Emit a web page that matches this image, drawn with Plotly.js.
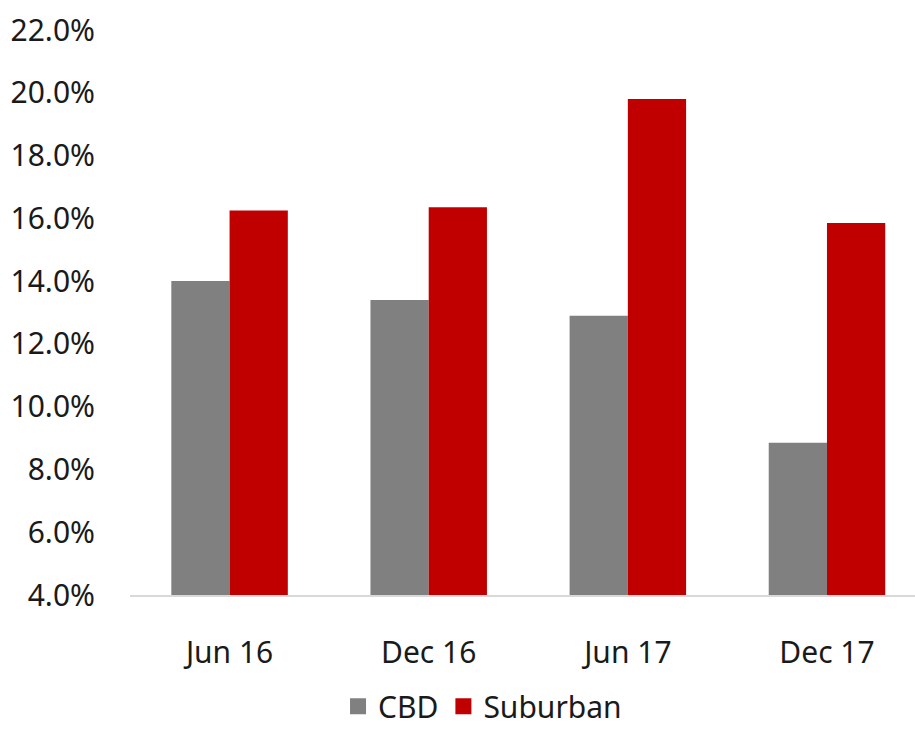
<!DOCTYPE html>
<html>
<head>
<meta charset="utf-8">
<script src="https://cdn.plot.ly/plotly-3.0.1.min.js"></script>
<style>html,body{margin:0;padding:0;background:#fff;}#chart{width:915px;height:731px;}</style>
</head>
<body>
<div id="chart"></div>
<script>
const categories = ["Jun 16", "Dec 16", "Jun 17", "Dec 17"];
const cbd = [14.0, 13.4, 12.9, 8.85];
const suburban = [16.25, 16.35, 19.8, 15.85];
const tickVals = [4, 6, 8, 10, 12, 14, 16, 18, 20, 22];
const tickText = ["4.0%", "6.0%", "8.0%", "10.0%", "12.0%", "14.0%", "16.0%", "18.0%", "20.0%", "22.0%"];

const FONT = "Noto Sans, sans-serif";
const data = [
  {type: "bar", name: "CBD", x: categories, y: cbd, marker: {color: "#808080"}, showlegend: false},
  {type: "bar", name: "Suburban", x: categories, y: suburban, marker: {color: "#C00000"}, showlegend: false},
  {type: "scatter", mode: "markers", name: "CBD", x: [categories[0]], y: [null],
   marker: {symbol: "square", color: "#808080", size: 22}},
  {type: "scatter", mode: "markers", name: "Suburban", x: [categories[0]], y: [null],
   marker: {symbol: "square", color: "#C00000", size: 22}}
];
const layout = {
  width: 915, height: 731,
  margin: {l: 130, r: 0, t: 30, b: 136, autoexpand: false},
  paper_bgcolor: "#fff", plot_bgcolor: "#fff",
  barmode: "group", bargap: 0.415, bargroupgap: 0,
  font: {family: FONT, color: "#1a1a1a", size: 30},
  xaxis: {
    type: "category", range: [-0.5, 3.442],
    showgrid: false, zeroline: false,
    showline: true, linecolor: "#d9d9d9", linewidth: 2,
    ticks: "outside", ticklen: 30, tickcolor: "rgba(0,0,0,0)",
    tickfont: {family: FONT, size: 30, color: "#1a1a1a"}
  },
  yaxis: {
    range: [4, 22], tickvals: tickVals, ticktext: tickText,
    showgrid: false, zeroline: false, showline: false,
    ticks: "outside", ticklen: 28, tickcolor: "rgba(0,0,0,0)",
    tickfont: {family: FONT, size: 30, color: "#1a1a1a"}
  },
  legend: {
    orientation: "h", x: 0.265, xanchor: "left", y: -0.197, yanchor: "middle",
    font: {family: FONT, size: 30, color: "#1a1a1a"},
    itemclick: false, bgcolor: "rgba(0,0,0,0)"
  },
  showlegend: true
};
Plotly.newPlot("chart", data, layout, {displayModeBar: false, staticPlot: true});
</script>
</body>
</html>
